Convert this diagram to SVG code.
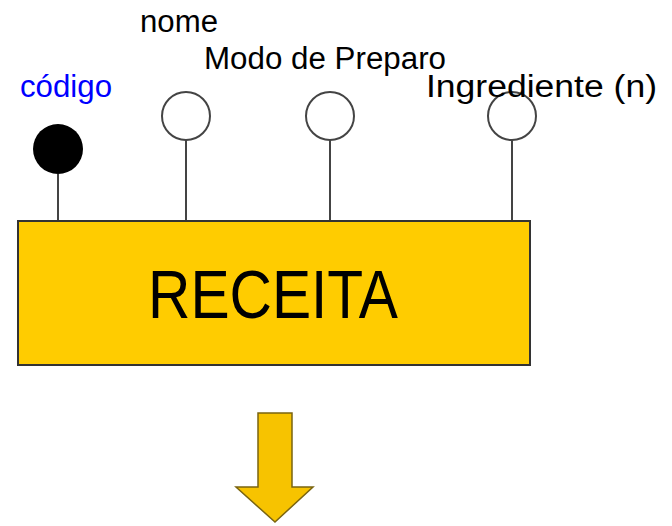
<svg xmlns="http://www.w3.org/2000/svg" width="672" height="526" viewBox="0 0 672 526">
<style>
.lbl{font-family:"Liberation Sans",Arial,sans-serif;font-size:31px;fill:#000}
.attr{fill:#fff;stroke:#444;stroke-width:2}
.conn{stroke:#444;stroke-width:2;fill:none}
</style>
<rect width="672" height="526" fill="#fff"/>
<g id="connectors">
<line class="conn" x1="58" y1="174" x2="58" y2="221"/>
<line class="conn" x1="186" y1="140" x2="186" y2="221"/>
<line class="conn" x1="330" y1="140" x2="330" y2="221"/>
<line class="conn" x1="512" y1="140" x2="512" y2="221"/>
</g>
<g id="receita">
<rect x="18" y="221" width="512" height="144" fill="#FFCC00" stroke="#333" stroke-width="2"/>
<text x="273" y="318" text-anchor="middle" style="font-family:'Liberation Sans',Arial,sans-serif;font-size:69px" textLength="250" lengthAdjust="spacingAndGlyphs">RECEITA</text>
</g>
<g id="codigo">
<circle cx="58" cy="149" r="25" fill="#000"/>
<text class="lbl" x="20" y="97" style="fill:#0000FF" textLength="92" lengthAdjust="spacingAndGlyphs">código</text>
</g>
<g id="nome">
<circle class="attr" cx="186" cy="116" r="24"/>
<text class="lbl" x="140" y="32" textLength="78" lengthAdjust="spacingAndGlyphs">nome</text>
</g>
<g id="modo">
<circle class="attr" cx="330" cy="116" r="24"/>
<text class="lbl" x="204" y="69" textLength="242" lengthAdjust="spacingAndGlyphs">Modo de Preparo</text>
</g>
<g id="ingrediente">
<circle class="attr" cx="512" cy="116" r="24"/>
<text class="lbl" x="426" y="97" textLength="231" lengthAdjust="spacingAndGlyphs">Ingrediente (n)</text>
</g>
<g id="arrow">
<path d="M258,413 H292 V487 H313 L275,522 L236,487 H258 Z" fill="#F7C300" stroke="#7a6410" stroke-width="1.5"/>
</g>
</svg>
